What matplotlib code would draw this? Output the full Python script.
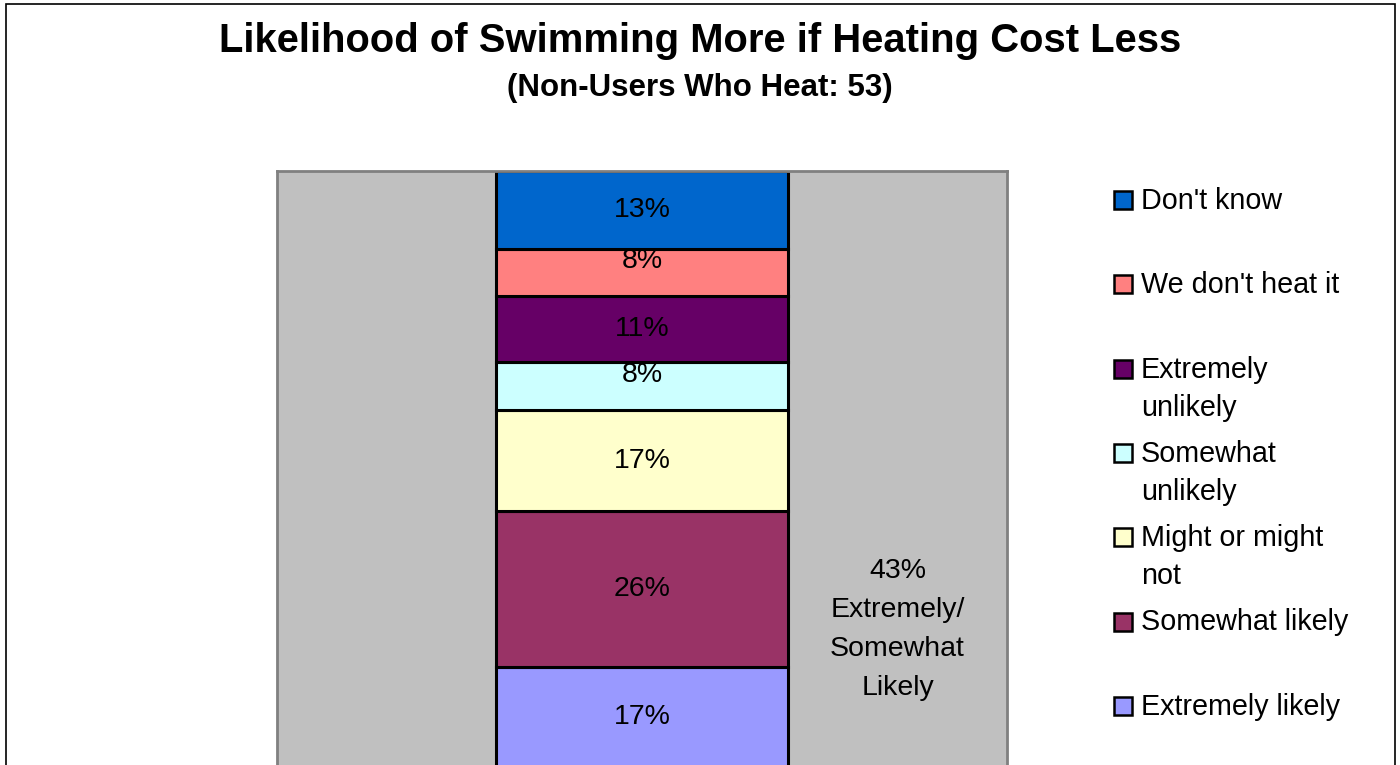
#!/usr/bin/env python3
# swim_heating_likelihood.py

import matplotlib
matplotlib.use("Agg")
import matplotlib.pyplot as plt
from matplotlib.patches import Rectangle

plt.rcParams['font.family'] = ['Liberation Sans', 'DejaVu Sans']

# answers, bottom of the stack first
answers = ["Extremely likely", "Somewhat likely", "Might or might\nnot",
           "Somewhat\nunlikely", "Extremely\nunlikely", "We don't heat it",
           "Don't know"]
shares = [17, 26, 17, 8, 11, 8, 13]
colors = ["#9999FF", "#993366", "#FFFFCC", "#CCFFFF", "#660066", "#FF8080",
          "#0066CC"]
likely_total = shares[0] + shares[1]   # 43


def plot(fig, ax):
    bottom = 0
    for v, c in zip(shares, colors):
        ax.bar(0, v, width=0.8, bottom=bottom, color=c, edgecolor="black",
               linewidth=2.2, zorder=2)
        # thin slices get their label pushed up a little, like the old sheet
        nudge = 8 if v < 10 else 0
        ax.annotate(f"{v}%", (0, bottom + v / 2), xytext=(0, nudge),
                    textcoords="offset points", ha="center", va="center",
                    fontsize=20.5, zorder=3)
        bottom += v

    ax.text(0.7, 23.2,
            f"{likely_total}%\nExtremely/\nSomewhat\nLikely",
            ha="center", va="center", fontsize=20.5, linespacing=1.66)

    ax.set_xlim(-1, 1)
    ax.set_ylim(0, 100)
    ax.set_facecolor("#C0C0C0")
    ax.set_xticks([])
    ax.set_yticks([])
    for s in ax.spines.values():
        s.set_color("#808080")
        s.set_linewidth(2)

    # legend, top entry first, one slot per answer
    W, H = fig.get_size_inches() * fig.dpi
    for i, (lab, c) in enumerate(zip(answers[::-1], colors[::-1])):
        y = 200 + 84.3 * i
        fig.patches.append(Rectangle((1114 / W, 1 - (y + 9) / H),
                                     18 / W, 18 / H,
                                     transform=fig.transFigure,
                                     facecolor=c, edgecolor="black",
                                     linewidth=1.8))
        fig.text(1141 / W, 1 - (y - 13) / H, lab, ha="left", va="top",
                 fontsize=20.7, linespacing=1.45)

    fig.text(0.5, 1 - 41 / H, "Likelihood of Swimming More if Heating Cost Less",
             ha="center", va="center", fontsize=28.8, fontweight="bold")
    fig.text(0.5, 1 - 88 / H, "(Non-Users Who Heat: 53)",
             ha="center", va="center", fontsize=22.5, fontweight="bold")

    # outer chart frame
    fig.patches.append(Rectangle((6 / W, -0.05), 1389 / W, 1.05 - 4 / H,
                                 transform=fig.transFigure, fill=False,
                                 edgecolor="black", linewidth=1.2))


def main():
    fig = plt.figure(figsize=(14, 7.65), dpi=100)
    ax = fig.add_axes([277 / 1400, 1 - 768 / 765, 730 / 1400, 597 / 765])
    plot(fig, ax)
    fig.savefig("out.png", dpi=100, facecolor="white")


if __name__ == "__main__":
    main()
